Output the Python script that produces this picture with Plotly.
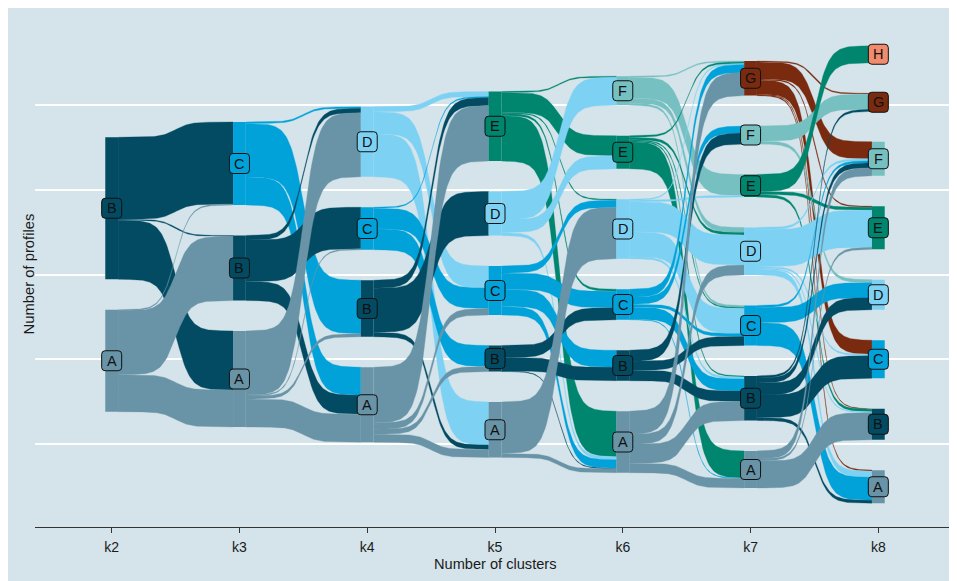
import numpy as np
import plotly.graph_objects as go

# ---------------- data ----------------
cluster_counts = ["k2", "k3", "k4", "k5", "k6", "k7", "k8"]
x_positions = [2, 3, 4, 5, 6, 7, 8]

# transitions between consecutive clusterings: source cluster, target cluster, profiles
k2_k3_from = ["B", "B", "B", "A", "A", "A"]
k2_k3_to = ["C", "B", "A", "C", "B", "A"]
k2_k3_n = [82, 1, 59, 1, 64, 37]

k3_k4_from = ["C", "C", "C", "B", "B", "B", "A", "A", "A", "A"]
k3_k4_to = ["D", "B", "A", "D", "C", "A", "D", "C", "B", "A"]
k3_k4_n = [1.5, 53.5, 28, 4.5, 41.5, 19, 64, 1, 3, 28]

k4_k5_from = ["D", "D", "D", "C", "C", "C", "B", "B", "B", "A", "A", "A", "A"]
k4_k5_to = ["E", "C", "A", "E", "C", "B", "E", "D", "A", "E", "C", "B", "A"]
k4_k5_n = [5, 22, 43, 1, 20.5, 21, 8, 44, 4.5, 55.5, 6.5, 5, 8]

k5_k6_from = ["E", "E", "E", "E", "E", "D", "D", "D", "C", "C", "C", "C", "B", "B", "B", "A", "A"]
k5_k6_to = ["F", "E", "D", "C", "A", "F", "E", "A", "D", "C", "B", "A", "C", "B", "A", "D", "A"]
k5_k6_n = [1, 20, 1, 2, 45.5, 28, 13, 3, 7, 16.5, 17, 8.5, 12, 13.5, 0.5, 51.5, 4]

k6_k7_from = ["F", "F", "F", "F", "E", "E", "E", "E", "E", "D", "D", "D", "D", "D",
              "C", "C", "C", "C", "C", "B", "B", "B", "A", "A", "A", "A"]
k6_k7_to = ["G", "E", "D", "C", "G", "D", "C", "B", "A", "G", "E", "D", "C", "B",
            "G", "F", "C", "B", "A", "F", "C", "B", "G", "D", "B", "A"]
k6_k7_n = [1, 21, 5, 2, 1.5, 2.5, 1, 1, 27, 1, 1.5, 30, 25, 2,
           8, 7, 3, 12, 0.5, 11, 9, 10.5, 23, 10, 19, 9.5]

k7_k8_from = ["G", "G", "G", "G", "G", "G", "F", "F", "E", "E", "E", "D", "D", "D", "D", "D",
              "C", "C", "C", "B", "B", "B", "B", "B", "A", "A", "A"]
k7_k8_to = ["G", "F", "E", "C", "B", "A", "G", "D", "H", "E", "B", "F", "E", "C", "B", "A",
            "F", "D", "A", "G", "F", "D", "C", "A", "F", "E", "B"]
k7_k8_n = [1, 17, 1, 14, 0.5, 1, 15, 3, 17, 3, 2.5, 2, 37, 1.5, 1, 6,
           2, 15, 23, 2, 5, 12, 22.5, 3, 8, 2, 27]

cluster_colors = {
    "A": "#6994A7", "B": "#024B62", "C": "#00A2D9", "D": "#7DD2F4",
    "E": "#00866F", "F": "#76C0C1", "G": "#7A2A0E", "H": "#F08B6D",
}

# ---------------- style ----------------
BG = "#D5E3EA"
GAP = 30.5          # vertical space between nodes
NODE_W = 0.05       # half node width (x units)
GRID_STEP = 84.75
FONT = "Liberation Sans, Arial, sans-serif"

transitions = [
    (k2_k3_from, k2_k3_to, k2_k3_n),
    (k3_k4_from, k3_k4_to, k3_k4_n),
    (k4_k5_from, k4_k5_to, k4_k5_n),
    (k5_k6_from, k5_k6_to, k5_k6_n),
    (k6_k7_from, k6_k7_to, k6_k7_n),
    (k7_k8_from, k7_k8_to, k7_k8_n),
]

# node sizes per column
sizes = []
for ci in range(len(cluster_counts)):
    d = {}
    if ci < len(transitions):
        fr, to, n = transitions[ci]
        for a, v in zip(fr, n):
            d[a] = d.get(a, 0) + v
    else:
        fr, to, n = transitions[ci - 1]
        for b, v in zip(to, n):
            d[b] = d.get(b, 0) + v
    sizes.append(d)

# node positions (centred stacks, A at the bottom)
nodes = []
for d in sizes:
    letters = sorted(d)
    total = sum(d.values()) + GAP * (len(letters) - 1)
    y = -total / 2
    pos = {}
    for L in letters:
        pos[L] = (y, y + d[L])
        y += d[L] + GAP
    nodes.append(pos)


def sigmoid(x0, x1, y0, y1, smooth=8, n=90):
    t = np.linspace(-smooth, smooth, n)
    s = np.exp(t) / (np.exp(t) + 1)
    return (t + smooth) / (2 * smooth) * (x1 - x0) + x0, s * (y1 - y0) + y0


fig = go.Figure()

for ci, (fr, to, n) in enumerate(transitions):
    src_nodes, dst_nodes = nodes[ci], nodes[ci + 1]
    flows = list(zip(fr, to, n))
    src_off = {}
    cursor = {L: src_nodes[L][1] for L in src_nodes}
    for a, b, v in sorted(flows, key=lambda f: (f[0], -ord(f[1]))):
        src_off[(a, b)] = (cursor[a] - v, cursor[a])
        cursor[a] -= v
    dst_off = {}
    cursor = {L: dst_nodes[L][1] for L in dst_nodes}
    for a, b, v in sorted(flows, key=lambda f: (f[1], -ord(f[0]))):
        dst_off[(a, b)] = (cursor[b] - v, cursor[b])
        cursor[b] -= v
    x0 = x_positions[ci] + NODE_W
    x1 = x_positions[ci + 1] - NODE_W
    for a, b, v in sorted(flows, key=lambda f: (-ord(f[0]), -ord(f[1]))):
        sb, st = src_off[(a, b)]
        db, dt = dst_off[(a, b)]
        xt, yt = sigmoid(x0, x1, st, dt)
        xb, yb = sigmoid(x0, x1, sb, db)
        xs = np.concatenate([xt, xb[::-1]])
        ys = np.concatenate([yt, yb[::-1]])
        col = cluster_colors[a]
        fig.add_trace(go.Scatter(x=xs, y=ys, mode="lines", fill="toself",
                                 fillcolor=col, line=dict(width=0.3, color=col),
                                 hoverinfo="skip", showlegend=False))

shapes = []
annotations = []
box = ("M -10,-6.5 Q -10,-10 -6.5,-10 L 6.5,-10 Q 10,-10 10,-6.5 L 10,6.5 "
       "Q 10,10 6.5,10 L -6.5,10 Q -10,10 -10,6.5 Z")
for ci, pos in enumerate(nodes):
    x = x_positions[ci]
    for L, (y0, y1) in pos.items():
        shapes.append(dict(type="rect", xref="x", yref="y", x0=x - NODE_W, x1=x + NODE_W,
                           y0=y0, y1=y1, fillcolor=cluster_colors[L], line=dict(width=0),
                           layer="above"))
for ci, pos in enumerate(nodes):
    x = x_positions[ci]
    for L, (y0, y1) in pos.items():
        ym = (y0 + y1) / 2
        shapes.append(dict(type="path", xref="x", yref="y", xsizemode="pixel",
                           ysizemode="pixel", xanchor=x, yanchor=ym, path=box,
                           fillcolor=cluster_colors[L], line=dict(color="#111111", width=1),
                           layer="above"))
        annotations.append(dict(x=x, y=ym, xref="x", yref="y", text=L, showarrow=False,
                                font=dict(family=FONT, size=14.5, color="#111111")))

annotations.append(dict(x=0.5, y=-0.0733, xref="paper", yref="paper", text="Number of clusters",
                        showarrow=False, yanchor="middle",
                        font=dict(family=FONT, size=14.6, color="#1a1a1a")))
annotations.append(dict(x=-0.0076, y=0.5, xref="paper", yref="paper", text="Number of profiles",
                        showarrow=False, textangle=-90, xanchor="center",
                        font=dict(family=FONT, size=14.8, color="#1a1a1a")))

fig.update_layout(
    width=957, height=581, autosize=False,
    margin=dict(l=27, r=10, t=14, b=62),
    paper_bgcolor=BG, plot_bgcolor=BG,
    shapes=shapes, annotations=annotations,
    showlegend=False,
    xaxis=dict(range=[1.4, 8.6], tickvals=x_positions, ticktext=cluster_counts,
               showgrid=False, zeroline=False, showline=True, linecolor="#333333",
               linewidth=1.2, ticks="outside", ticklen=5, tickcolor="#333333",
               ticklabelstandoff=2,
               tickfont=dict(family=FONT, size=14, color="#1a1a1a"), fixedrange=True),
    yaxis=dict(range=[-252.5, 252.5], tickvals=[-2 * GRID_STEP, -GRID_STEP, 0, GRID_STEP, 2 * GRID_STEP],
               showticklabels=False, showgrid=True, gridcolor="white", gridwidth=2.2,
               zeroline=False, showline=False, ticks="", fixedrange=True),
)

fig.write_html("out.html")
